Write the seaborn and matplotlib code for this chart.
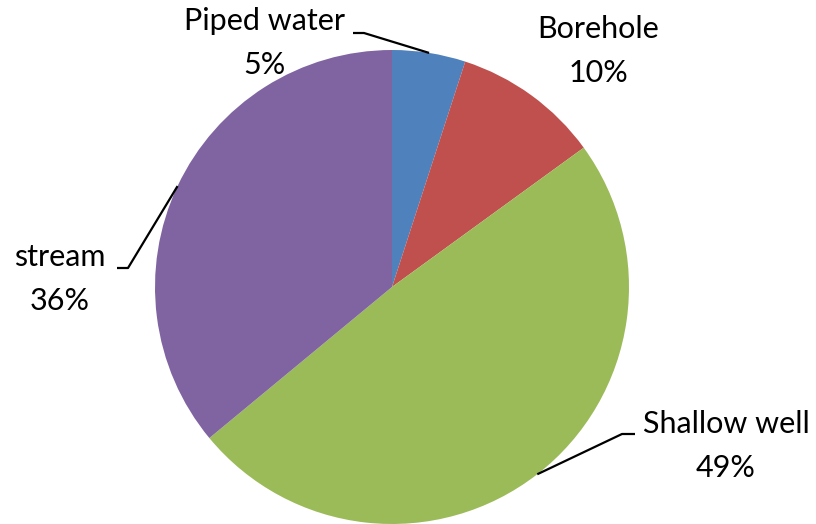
import numpy as np
import matplotlib.pyplot as plt
import seaborn as sns

sources = ["Piped water", "Borehole", "Shallow well", "stream"]
shares = [5, 10, 49, 36]
colors = ["#4F81BD", "#C0504D", "#9BBB59", "#8064A2"]

# label block centres (pixel layout, y from top) and elbow of leader line
label_pos = [(264, 43), (598, 51), (726, 446), (60, 279)]
elbows = [[(353, 33), (364, 33)], None, [(635, 434), (622, 434)], [(117, 268), (128, 268)]]

sns.set_theme(style="white")
plt.rcParams["font.family"] = ["Lato", "DejaVu Sans"]

W, H = 816, 524
fig = plt.figure(figsize=(W / 100, H / 100), dpi=100)
ax = fig.add_axes([0, 0, 1, 1])

cx, cy, r = 392, H - 287, 237
wedges, _ = ax.pie(shares, colors=colors, startangle=90, counterclock=False,
                   center=(cx, cy), radius=r, frame=True,
                   wedgeprops=dict(linewidth=0))
ax.set_xlim(0, W)
ax.set_ylim(0, H)
ax.set_aspect("equal")
ax.axis("off")

for w, name, val, (tx, ty), elb in zip(wedges, sources, shares, label_pos, elbows):
    ax.text(tx, H - ty, f"{name}\n{val}%", ha="center", va="center",
            fontsize=22, linespacing=1.7, color="black")
    if elb is None:
        continue
    mid = np.deg2rad((w.theta1 + w.theta2) / 2)
    ex, ey = cx + r * np.cos(mid), cy + r * np.sin(mid)
    xs = [elb[0][0], elb[1][0], ex]
    ys = [H - elb[0][1], H - elb[1][1], ey]
    ax.plot(xs, ys, color="black", linewidth=1.6, solid_capstyle="butt")

fig.savefig("out.png", dpi=100)
